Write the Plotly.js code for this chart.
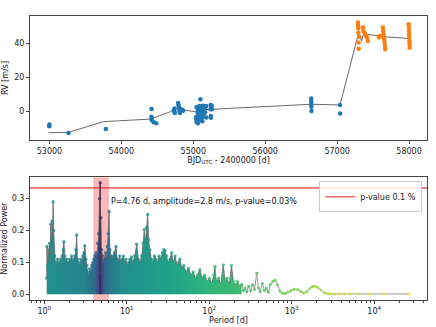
<!DOCTYPE html>
<html>
<head>
<meta charset="utf-8">
<script src="https://cdn.plot.ly/plotly-3.0.1.min.js"></script>
<style>
  body { margin: 0; background: #fff; }
  #plot { width: 436px; height: 327px; }
</style>
</head>
<body>
<div id="plot"></div>
<script>
// RV time series (BJD - 2400000, m/s)
const blueTime = [52998, 53000, 53265, 53785,
  54418, 54420, 54422, 54425, 54450, 54485,
  54730, 54735, 54740, 54745, 54790, 54795, 54800, 54805, 54810, 54812, 54815, 54820, 54850, 54860,
  55040, 55042, 55045, 55046, 55060, 55062, 55064, 55066, 55080, 55082, 55084, 55086,
  55100, 55102, 55104, 55106, 55108, 55120, 55122, 55124, 55126, 55140, 55142, 55144, 55146,
  55160, 55162, 55164, 55180, 55182, 55240, 55242, 55244, 55246, 55248, 55258, 55260,
  56640, 56641, 56642, 56643, 56644, 57040, 57042];
const blueRV = [-9, -8, -13, -10.7,
  -3.4, 1.2, -4.5, -5.5, -6.7, -7.3,
  0.5, -0.5, 1.5, -1.2, 4.8, 3.5, 2.5, 1.8, 0.5, -0.3, -1.2, 1.0, 0.8, 0.2,
  -3.5, -5, -6.5, 2.2, -1, -4, -7.3, 0.5, -2.5, 1, -5.5, 3,
  7, 2, 0, -3, -4.5, 3, 1.5, -1.5, -6, 3.2, 0.8, -2.2, -3.5,
  2.5, 1.2, -0.8, 3, -3.8, 1, 3.5, -3, -4, 2, 3.2, 1,
  7.5, 5.5, 4.0, 2.6, 0, 3.6, -1.4];

const orangeTime = [57290, 57292, 57294, 57296, 57298, 57300, 57310,
  57360, 57366, 57380, 57392, 57404, 57416, 57428,
  57580, 57595, 57635, 57640, 57645, 57650, 57655, 57660, 57665, 57670,
  57994, 57997, 58000, 58001, 58003, 58005, 58007, 58009];
const orangeRV = [52.5, 50.9, 49.1, 46.5, 40.6, 37, 44,
  49.5, 47.5, 46.5, 45.6, 44.6, 43.6, 41.6,
  43.6, 44.5, 49.5, 47.5, 45.6, 43.6, 42.6, 40.6, 38.6, 36.7,
  51.5, 49.5, 47.5, 45.6, 43.6, 41.6, 39.6, 37.6];

// model curve
const modelTime = [52986, 53265, 53753, 54404, 54683, 54753, 55032, 55100, 55520, 56640, 57040, 57300, 57340, 57380, 57410, 57660, 58005];
const modelRV = [-12.9, -12.7, -6.3, -4.8, -0.4, 1.2, -0.4, 0.6, 1.6, 4.0, 3.6, 46.5, 41.6, 47.5, 45.6, 44.1, 43];

// periodogram (period in days, normalized power)
const densePeriod = [1.07, 1.08, 1.10, 1.12, 1.14, 1.16, 1.18, 1.20, 1.22, 1.24, 1.26, 1.28, 1.30, 1.33, 1.36, 1.40,
  1.44, 1.48, 1.52, 1.56, 1.60, 1.65, 1.70, 1.73, 1.77, 1.82, 1.87, 1.92, 1.97, 2.03, 2.09, 2.15,
  2.21, 2.28, 2.35, 2.42, 2.47, 2.52, 2.60, 2.68, 2.76, 2.85, 2.94, 3.03, 3.10, 3.18, 3.27, 3.36,
  3.46, 3.56, 3.66, 3.77, 3.88, 3.99, 4.10, 4.22, 4.34, 4.46, 4.58, 4.68, 4.74, 4.76, 4.78, 4.84,
  4.95, 5.08, 5.20, 5.35, 5.50, 5.65, 5.82, 5.98, 6.10, 6.25, 6.45, 6.65, 6.85, 7.10, 7.40, 7.65,
  7.90, 8.20, 8.50, 8.80, 9.10, 9.40, 9.75, 10.1, 10.5, 10.9, 11.4, 11.9, 12.5, 13.2, 13.8, 14.5,
  15.2, 15.8, 16.3, 16.9, 17.4, 17.9, 18.4, 19.0, 19.8, 20.7, 21.6, 22.6, 23.6, 24.7, 25.9, 27.0,
  28.2, 29.0, 30.3, 31.8, 33.4, 35.0, 36.8, 38.6, 40.5, 42.5, 44.0, 46.5, 49.0, 52.0, 56.0, 60.0,
  64.0, 68.0, 72.0, 77.0, 82.0, 88.0, 94.0, 100, 107, 114, 117, 122, 130, 138, 148, 156,
  165, 175, 186, 196, 208, 220, 233, 247];
const densePower = [0.05, 0.15, 0.09, 0.14, 0.10, 0.16, 0.12, 0.22, 0.15, 0.23, 0.18, 0.29, 0.20, 0.12, 0.10, 0.09,
  0.11, 0.10, 0.09, 0.11, 0.10, 0.12, 0.14, 0.165, 0.12, 0.10, 0.11, 0.09, 0.10, 0.11, 0.10, 0.12,
  0.10, 0.11, 0.12, 0.14, 0.186, 0.11, 0.10, 0.09, 0.11, 0.10, 0.12, 0.13, 0.152, 0.11, 0.09, 0.07,
  0.06, 0.08, 0.07, 0.09, 0.10, 0.11, 0.12, 0.13, 0.12, 0.16, 0.19, 0.30, 0.06, 0.35, 0.05, 0.24,
  0.14, 0.12, 0.10, 0.11, 0.13, 0.11, 0.15, 0.19, 0.26, 0.14, 0.12, 0.11, 0.12, 0.13, 0.15, 0.11,
  0.10, 0.12, 0.10, 0.11, 0.12, 0.10, 0.11, 0.09, 0.10, 0.11, 0.117, 0.10, 0.12, 0.157, 0.11, 0.10,
  0.12, 0.16, 0.203, 0.16, 0.21, 0.25, 0.17, 0.14, 0.11, 0.10, 0.12, 0.11, 0.10, 0.12, 0.11, 0.13,
  0.14, 0.137, 0.12, 0.10, 0.11, 0.13, 0.10, 0.12, 0.09, 0.10, 0.11, 0.08, 0.09, 0.07, 0.082, 0.06,
  0.07, 0.05, 0.06, 0.077, 0.05, 0.06, 0.04, 0.05, 0.035, 0.06, 0.087, 0.04, 0.05, 0.03, 0.092, 0.04,
  0.05, 0.03, 0.09, 0.04, 0.03, 0.04, 0.025, 0.03];
const tailPeriod = [247, 260, 272, 285, 300, 318, 335, 355, 376, 395, 415, 440, 465, 490, 520, 550,
  590, 630, 670, 720, 770, 830, 900, 980, 1070, 1180, 1290, 1400, 1520, 1650, 1780, 1900,
  2050, 2250, 2500, 2750, 2950, 3300, 3770, 4340, 5130, 6500, 8650, 13100, 26500];
const tailPower = [0.03, 0.012, 0.02, 0.008, 0.025, 0.01, 0.03, 0.015, 0.066, 0.02, 0.008, 0.034, 0.012, 0.02, 0.006, 0.03,
  0.04, 0.045, 0.03, 0.01, 0.003, 0.002, 0.006, 0.012, 0.016, 0.015, 0.009, 0.004, 0.008, 0.018, 0.024, 0.025,
  0.022, 0.013, 0.005, 0.002, 0.001, 0.001, 0.001, 0.001, 0.001, 0.001, 0.001, 0.001, 0.001];

const fapLevel = 0.334;
const bestPeriod = 4.76;
const bandPeriod = [3.93, 6.08];
const peakLabel = 'P=4.76 d, amplitude=2.8 m/s, p-value=0.03%';

// colours along log10(period)
const colorStops = [[0.0, '#22908c'], [0.5, '#25838e'], [0.62, '#30698e'], [0.678, '#46327e'], [0.74, '#30698e'],
  [0.85, '#25838e'], [1.0, '#21918c'], [1.5, '#1fa187'], [2.0, '#2fb47c'], [2.5, '#4ac16d'],
  [3.0, '#7ad151'], [3.3, '#a0da39'], [3.6, '#d2e21b'], [4.42, '#fde725']];
const cMax = 4.42;
const markerScale = colorStops.map(s => [s[0] / cMax, s[1]]);

function fillScale(p0, p1) {
  const l0 = Math.log10(p0), l1 = Math.log10(p1);
  const out = [];
  colorStops.forEach(s => {
    const f = (s[0] - l0) / (l1 - l0);
    if (f > 0 && f < 1) out.push([f, s[1]]);
  });
  out.unshift([0, colorStops[0][1]]);
  out.push([1, '#3fbc73']);
  return out;
}

const font = 'DejaVu Sans, sans-serif';
const axisLine = '#444';

const traces = [
  {
    x: modelTime, y: modelRV, mode: 'lines', type: 'scatter',
    line: { color: '#444', width: 0.8 }, showlegend: false, hoverinfo: 'skip'
  },
  {
    x: blueTime, y: blueRV, mode: 'markers', type: 'scatter',
    marker: { color: '#1f77b4', size: 4.5 }, showlegend: false
  },
  {
    x: orangeTime, y: orangeRV, mode: 'markers', type: 'scatter',
    marker: { color: '#ff7f0e', size: 4.5 }, showlegend: false
  },
  {
    x: densePeriod, y: densePower, xaxis: 'x2', yaxis: 'y2', type: 'scatter', mode: 'lines+markers',
    fill: 'tozeroy',
    fillgradient: { type: 'horizontal', start: densePeriod[0], stop: densePeriod[densePeriod.length - 1],
      colorscale: fillScale(densePeriod[0], densePeriod[densePeriod.length - 1]) },
    line: { color: '#666', width: 0.8 },
    marker: { size: 3.5, opacity: 0.75, color: densePeriod.map(p => Math.log10(p)),
      colorscale: markerScale, cmin: 0, cmax: cMax },
    showlegend: false
  },
  {
    x: tailPeriod, y: tailPower, xaxis: 'x2', yaxis: 'y2', type: 'scatter', mode: 'lines+markers',
    line: { color: '#999', width: 1 },
    marker: { size: 3, opacity: 0.9, color: tailPeriod.map(p => Math.log10(p)),
      colorscale: markerScale, cmin: 0, cmax: cMax },
    showlegend: false
  },
  {
    x: [0.1, 1e6], y: [fapLevel, fapLevel], xaxis: 'x2', yaxis: 'y2', type: 'scatter', mode: 'lines',
    line: { color: 'rgba(240,60,60,0.75)', width: 1.6 }, name: 'p-value 0.1 %'
  }
];

const tickStyle = {
  showline: true, mirror: true, linecolor: axisLine, linewidth: 1,
  ticks: 'outside', ticklen: 3, tickcolor: axisLine, showgrid: false, zeroline: false,
  tickfont: { family: font, size: 8, color: '#222' }
};

const layout = {
  width: 436, height: 327,
  margin: { l: 30, r: 9, t: 16, b: 27 },
  paper_bgcolor: '#fff', plot_bgcolor: '#fff',
  font: { family: font, size: 8, color: '#222' },
  showlegend: true,
  legend: {
    x: 0.988, xanchor: 'right', y: 0.418, yanchor: 'top', itemwidth: 30,
    bgcolor: 'rgba(255,255,255,0.85)', bordercolor: '#ccc', borderwidth: 1,
    font: { family: font, size: 8 }, tracegroupgap: 0
  },
  xaxis: Object.assign({}, tickStyle, {
    domain: [0, 1], anchor: 'y', range: [52730, 58250],
    tickvals: [53000, 54000, 55000, 56000, 57000, 58000], tickformat: 'd',
    title: { text: 'BJD<sub>UTC</sub> - 2400000 [d]', font: { family: font, size: 8 }, standoff: 2 }
  }),
  yaxis: Object.assign({}, tickStyle, {
    domain: [0.5634, 1], anchor: 'x', range: [-17.2, 56.4],
    tickvals: [0, 20, 40],
    title: { text: 'RV [m/s]', font: { family: font, size: 8 }, standoff: 4 }
  }),
  xaxis2: Object.assign({}, tickStyle, {
    domain: [0, 1], anchor: 'y2', type: 'log', range: [-0.173, 4.64],
    tickvals: [1, 10, 100, 1000, 10000],
    ticktext: ['10<sup>0</sup>', '10<sup>1</sup>', '10<sup>2</sup>', '10<sup>3</sup>', '10<sup>4</sup>'],
    minor: { ticks: 'outside', ticklen: 2, tickcolor: axisLine, dtick: 'D1' },
    title: { text: 'Period [d]', font: { family: font, size: 8 }, standoff: 2 }
  }),
  yaxis2: Object.assign({}, tickStyle, {
    domain: [0, 0.432], anchor: 'x2', range: [-0.018, 0.367],
    tickvals: [0, 0.1, 0.2, 0.3], tickformat: '.1f',
    title: { text: 'Normalized Power', font: { family: font, size: 8 }, standoff: 4 }
  }),
  shapes: [
    {
      type: 'rect', xref: 'x2', yref: 'paper', x0: bandPeriod[0], x1: bandPeriod[1], y0: 0, y1: 0.432,
      fillcolor: 'rgba(245,80,80,0.4)', line: { width: 0 }, layer: 'below'
    },
    {
      type: 'line', xref: 'x2', yref: 'y2', x0: bestPeriod, x1: bestPeriod, y0: 0, y1: 0.35,
      line: { color: 'rgba(40,20,60,0.8)', width: 1 }
    }
  ],
  annotations: [
    {
      xref: 'x2', yref: 'y2', x: Math.log10(6.1), y: 0.29, xanchor: 'left', yanchor: 'middle',
      text: peakLabel, showarrow: false, font: { family: font, size: 8, color: '#111' }
    }
  ]
};

Plotly.newPlot('plot', traces, layout, { staticPlot: true, displayModeBar: false });
</script>
</body>
</html>
